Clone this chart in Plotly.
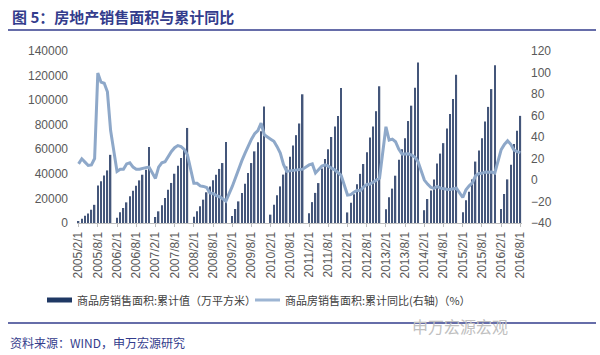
import plotly.graph_objects as go

# ---------------- data ----------------
years = list(range(2005, 2017))
# cumulative sales area (10k m2); January has no separate value (None)
area_2005 = [1500, 3500, 6000, 7800, 10800, 14800, 30500, 34000, 38600, 42800, 55486]
area_2006 = [None, 4300, 8700, 12200, 16800, 21700, 26300, 30400, 34700, 39300, 43400, 61857]
area_2007 = [None, 4900, 9500, 14400, 20300, 27100, 32600, 40100, 46700, 52900, 59700, 77355]
area_2008 = [None, 5000, 9500, 13600, 19000, 25000, 29800, 34700, 39300, 44000, 48800, 65970]
area_2009 = [None, 5600, 11400, 17600, 24400, 31900, 40700, 48800, 58300, 65700, 74600, 94755]
area_2010 = [None, 6800, 14900, 22500, 29800, 39400, 46000, 54000, 63000, 71500, 81000, 104765]
area_2011 = [None, 8000, 17000, 24500, 32500, 44400, 52000, 60000, 70000, 78500, 87000, 109946]
area_2012 = [None, 8600, 16500, 23500, 31500, 40000, 48000, 57500, 69500, 78500, 91000, 111304]
area_2013 = [None, 11200, 21000, 28000, 38500, 51400, 60000, 69000, 83000, 95500, 110000, 130551]
area_2014 = [None, 10400, 19500, 26500, 35500, 48400, 56500, 65000, 77000, 88800, 101000, 120649]
area_2015 = [None, 8800, 18500, 25500, 35500, 50000, 59000, 69000, 82700, 94500, 109000, 128495]
area_2016 = [None, 11300, 23600, 35500, 47400, 64300, 75100, 87200]

# cumulative YoY (%)
yoy_2005 = [15, 19.7, 16.6, 13.5, 14, 20, 99.5, 91, 90, 82, 46]
yoy_2006 = [None, 8, 10, 10, 15, 16, 12, 10, 10, 11, 11.5, 12]
yoy_2007 = [None, 1.5, 12, 16, 17, 22, 26.5, 30, 32, 31, 28.5, 23.2]
yoy_2008 = [None, -3, -3, -5.5, -6, -7, -12, -12.5, -14.5, -15.5, -17.5, -19.7]
yoy_2009 = [None, -6, 2, 11, 18, 25, 32, 38, 43, 46, 53, 42.1]
yoy_2010 = [None, 38, 36, 31, 25, 14.5, 8, 8.5, 9, 9.5, 9.7, 10.1]
yoy_2011 = [None, 14, 15, 6.5, 10, 13, 14, 13, 11, 9.5, 7, 4.4]
yoy_2012 = [None, -14, -13.6, -11.3, -9.5, -10, -6.5, -4.1, -3.8, -2.1, -0.3, 1.8]
yoy_2013 = [None, 49.5, 37.1, 38, 35.6, 28.7, 24.1, 24.2, 24.3, 23.2, 21.3, 17.3]
yoy_2014 = [None, -0.1, -3.8, -6.8, -7.8, -6.0, -7.6, -8.3, -8.6, -8.9, -8.2, -7.6]
yoy_2015 = [None, -16.3, -9.2, -5.4, -2.6, 3.9, 6.1, 6.2, 7.5, 7.2, 7.4, 6.5]
yoy_2016 = [None, 28.2, 33.1, 36.5, 33.2, 27.9, 26.4, 25.5]

area = (area_2005 + area_2006 + area_2007 + area_2008 + area_2009 + area_2010 +
        area_2011 + area_2012 + area_2013 + area_2014 + area_2015 + area_2016)
yoy = (yoy_2005 + yoy_2006 + yoy_2007 + yoy_2008 + yoy_2009 + yoy_2010 +
       yoy_2011 + yoy_2012 + yoy_2013 + yoy_2014 + yoy_2015 + yoy_2016)

# category labels: 2005/2/1 ... 2016/8/1
dates = []
for y in years:
    m0 = 2 if y == 2005 else 1
    m1 = 8 if y == 2016 else 12
    for m in range(m0, m1 + 1):
        dates.append(f"{y}/{m}/1")
tick_labels = dates[::6]

title_text = "图 5：房地产销售面积与累计同比"
legend1 = "商品房销售面积:累计值（万平方米）"
legend2 = "商品房销售面积:累计同比(右轴)（%）"
source_text = "资料来源：WIND，申万宏源研究"
watermark = "申万宏源宏观"

# ---------------- layout helpers ----------------
W, H = 600, 355
L, R, T, B = 77, 78, 51, 132
PW, PH = W - L - R, H - T - B

def px(x):
    return (x - L) / PW

def py(y):
    return (H - B - y) / PH

navy = "#333c8c"
bar_color = "#44567a"
line_color = "#8ea8c9"
tick_font = dict(family="Liberation Sans, Arial, sans-serif", size=12, color="#595959")
cjk = "Noto Sans CJK SC, sans-serif"

fig = go.Figure()
fig.add_trace(go.Bar(x=dates, y=area, marker=dict(color=bar_color, line=dict(width=0)),
                     name=legend1, yaxis="y"))
fig.add_trace(go.Scatter(x=dates, y=yoy, mode="lines", connectgaps=True,
                         line=dict(color=line_color, width=3), name=legend2, yaxis="y2"))

fig.update_layout(
    width=W, height=H,
    margin=dict(l=L, r=R, t=T, b=B),
    paper_bgcolor="white", plot_bgcolor="white",
    showlegend=False,
    bargap=0.55,
    xaxis=dict(type="category", categoryorder="array", categoryarray=dates,
               tickmode="array", tickvals=tick_labels, ticktext=tick_labels,
               tickangle=-90, tickfont=tick_font, showgrid=False,
               showline=True, linecolor="#bfbfbf", linewidth=1,
               ticks="outside", ticklen=3, tickcolor="#bfbfbf",
               range=[-0.5, len(dates) - 0.5]),
    yaxis=dict(range=[0, 140000], dtick=20000, tickformat="d", tickfont=tick_font,
               showgrid=False, zeroline=False, showline=False, ticklabelstandoff=8),
    yaxis2=dict(range=[-40, 120], dtick=20, tickfont=tick_font, overlaying="y",
                side="right", showgrid=False, zeroline=False, showline=False,
                ticklabelstandoff=8),
)

shapes = [
    # top rule under the title
    dict(type="line", xref="paper", yref="paper", x0=px(8), x1=px(596), y0=py(30), y1=py(30),
         line=dict(color=navy, width=1.5)),
    # bottom rule above the source
    dict(type="line", xref="paper", yref="paper", x0=px(8), x1=px(596), y0=py(323), y1=py(323),
         line=dict(color=navy, width=1.5)),
    # legend swatches
    dict(type="rect", xref="paper", yref="paper", x0=px(47), x1=px(72), y0=py(302.5), y1=py(297.5),
         fillcolor="#1f3864", line=dict(width=0)),
    dict(type="line", xref="paper", yref="paper", x0=px(255), x1=px(280), y0=py(300), y1=py(300),
         line=dict(color="#9db5d3", width=3)),
]
fig.update_layout(shapes=shapes)

ann = [
    dict(text=f"<b>{title_text}</b>", x=px(10), y=py(16), xanchor="left", yanchor="middle",
         font=dict(family=cjk, size=15, color=navy)),
    dict(text=legend1, x=px(75), y=py(300), xanchor="left", yanchor="middle",
         font=dict(family=cjk, size=11, color="#404040")),
    dict(text=legend2, x=px(283), y=py(300), xanchor="left", yanchor="middle",
         font=dict(family=cjk, size=11, color="#404040")),
    dict(text=source_text, x=px(8), y=py(342), xanchor="left", yanchor="middle",
         font=dict(family=cjk, size=12, color=navy)),
    dict(text=watermark, x=px(410), y=py(326), xanchor="left", yanchor="middle",
         font=dict(family=cjk, size=16, color="#c0c0c0")),
]
for a in ann:
    a.update(xref="paper", yref="paper", showarrow=False)
fig.update_layout(annotations=ann)

fig.write_html("out.html", config={"displayModeBar": False},
               post_script="document.body.style.margin='0px';document.body.style.overflow='hidden';")
